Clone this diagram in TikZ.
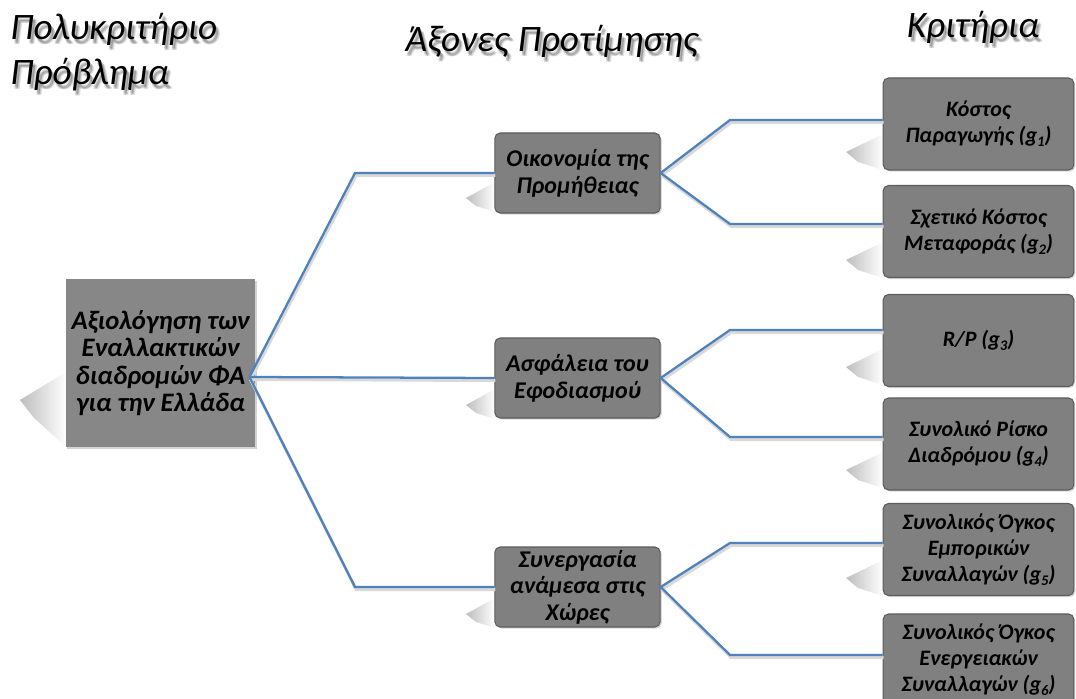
\documentclass[tikz,border=0pt]{standalone}
\usepackage{fontspec}
\setmainfont{Carlito}
\usetikzlibrary{calc,fadings,shadows}

\definecolor{linkblue}{HTML}{4F81BD}
\definecolor{boxgray}{HTML}{808080}
\definecolor{rootgray}{HTML}{878787}
\definecolor{boxedge}{HTML}{5C5C5C}

% criterion index written as a lowered small figure
\newcommand\gsub[1]{g\raisebox{-0.4ex}{\fontsize{11}{11}\selectfont #1}}

\begin{document}
\begin{tikzpicture}[x=0.75pt,y=-0.75pt,
  hdr/.style={font=\fontsize{28}{34}\selectfont\itshape, align=left, inner sep=0pt, text=black},
  hdrshadow/.style={hdr, text=black, text opacity=0.12},
  boxtext/.style={align=center, text=black, inner sep=1pt},
  rootbox/.style={boxtext, font=\fontsize{20}{20.5}\selectfont\bfseries\itshape,
    fill=rootgray, minimum width=142pt, minimum height=126pt,
    drop shadow={shadow xshift=1.2pt, shadow yshift=-1.2pt, opacity=0.35}},
  axisbox/.style={boxtext, font=\fontsize{18}{20}\selectfont\bfseries\itshape,
    draw=boxedge, line width=0.8pt, fill=boxgray, rounded corners=4pt,
    minimum width=124pt, minimum height=60pt,
    drop shadow={shadow xshift=1.2pt, shadow yshift=-1.2pt, opacity=0.3}},
  critbox/.style={axisbox, font=\fontsize{16.5}{19.5}\selectfont\bfseries\itshape,
    minimum width=143pt, minimum height=69pt},
  link/.style={draw=linkblue, line width=1.7pt, line join=miter,
    preaction={draw=black!15, line width=2.4pt, transform canvas={xshift=0.8pt, yshift=-1.8pt}}},
  ground/.style={fill=black!26, path fading=east},
]
\useasboundingbox (0,0) rectangle (1076,699);
\clip (0,0) rectangle (1076,699);

% headings with a soft drop shadow
\foreach \dx/\dy [count=\i] in {2/3, 4/5, 3/4, 2/5} {
  \node[hdrshadow, anchor=north west] (hAs\i) at (10+\dx,13+\dy) {Πολυκριτήριο\\Πρόβλημα};
  \node[hdrshadow, anchor=base] (hBs\i) at (552+\dx,52+\dy) {Άξονες Προτίμησης};
  \node[hdrshadow, anchor=base] (hCs\i) at (973+\dx,38+\dy) {Κριτήρια};
}
\node[hdr, anchor=north west] (hA) at (10,13) {Πολυκριτήριο\\Πρόβλημα};
\node[hdr, anchor=base] (hB) at (552,52) {Άξονες Προτίμησης};
\node[hdr, anchor=base] (hC) at (973,38) {Κριτήρια};

% ground shadows cast to the lower left of the boxes
\fill[ground] (66,372) -- (20,400) -- (34,418) -- (66,447) -- cycle;
\foreach \y in {212,419,628} {
  \fill[ground] (495,\y-30) -- (466,\y-14) -- (476,\y-6) -- (495,\y) -- cycle;
}
\foreach \y in {170,278,385,488,596} {
  \fill[ground] (883,\y-36) -- (846,\y-18) -- (858,\y-8) -- (883,\y) -- cycle;
}

% boxes
\node[rootbox] (root) at (160.5,363) {Αξιολόγηση των\\Εναλλακτικών\\διαδρομών ΦΑ\\για την Ελλάδα};

\node[axisbox] (econ) at (577.5,173) {Οικονομία της\\Προμήθειας};
\node[axisbox] (secu) at (577.5,378) {Ασφάλεια του\\Εφοδιασμού};
\node[axisbox] (coop) at (577.5,587) {Συνεργασία\\ανάμεσα στις\\Χώρες};

\node[critbox] (k1) at (978.5,124) {Κόστος\\Παραγωγής (\gsub{1})};
\node[critbox] (k2) at (978.5,231.5) {Σχετικό Κόστος\\Μεταφοράς (\gsub{2})};
\node[critbox] (k3) at (978.5,340.5) {R/P (\gsub{3})};
\node[critbox] (k4) at (978.5,444) {Συνολικό Ρίσκο\\Διαδρόμου (\gsub{4})};
\node[critbox] (k5) at (978.5,549.5) {Συνολικός Όγκος\\Εμπορικών\\Συναλλαγών (\gsub{5})};
\node[critbox] (k6) at (978.5,660) {Συνολικός Όγκος\\Ενεργειακών\\Συναλλαγών (\gsub{6})};

% junction points of the tree
\coordinate (rootjoin) at ($(root.east)+(-6,14)$);
\coordinate (ra) at (355,173);
\coordinate (rc) at (355,587);
\coordinate (e1) at (730,120);
\coordinate (e2) at (730,224);
\coordinate (e3) at (730,330);
\coordinate (e4) at (730,437);
\coordinate (e5) at (730,543);
\coordinate (e6) at (730,655);

% connectors: problem -> axes
\draw[link] (rootjoin) -- (ra) -- (econ.west);
\draw[link] (rootjoin) -- (secu.west);
\draw[link] (rootjoin) -- (rc) -- (coop.west);

% connectors: axes -> criteria
\draw[link] (econ.east) -- (e1) -- (e1 -| k1.west);
\draw[link] (econ.east) -- (e2) -- (e2 -| k2.west);
\draw[link] (secu.east) -- (e3) -- (e3 -| k3.west);
\draw[link] (secu.east) -- (e4) -- (e4 -| k4.west);
\draw[link] (coop.east) -- (e5) -- (e5 -| k5.west);
\draw[link] (coop.east) -- (e6) -- (e6 -| k6.west);
\end{tikzpicture}
\end{document}
